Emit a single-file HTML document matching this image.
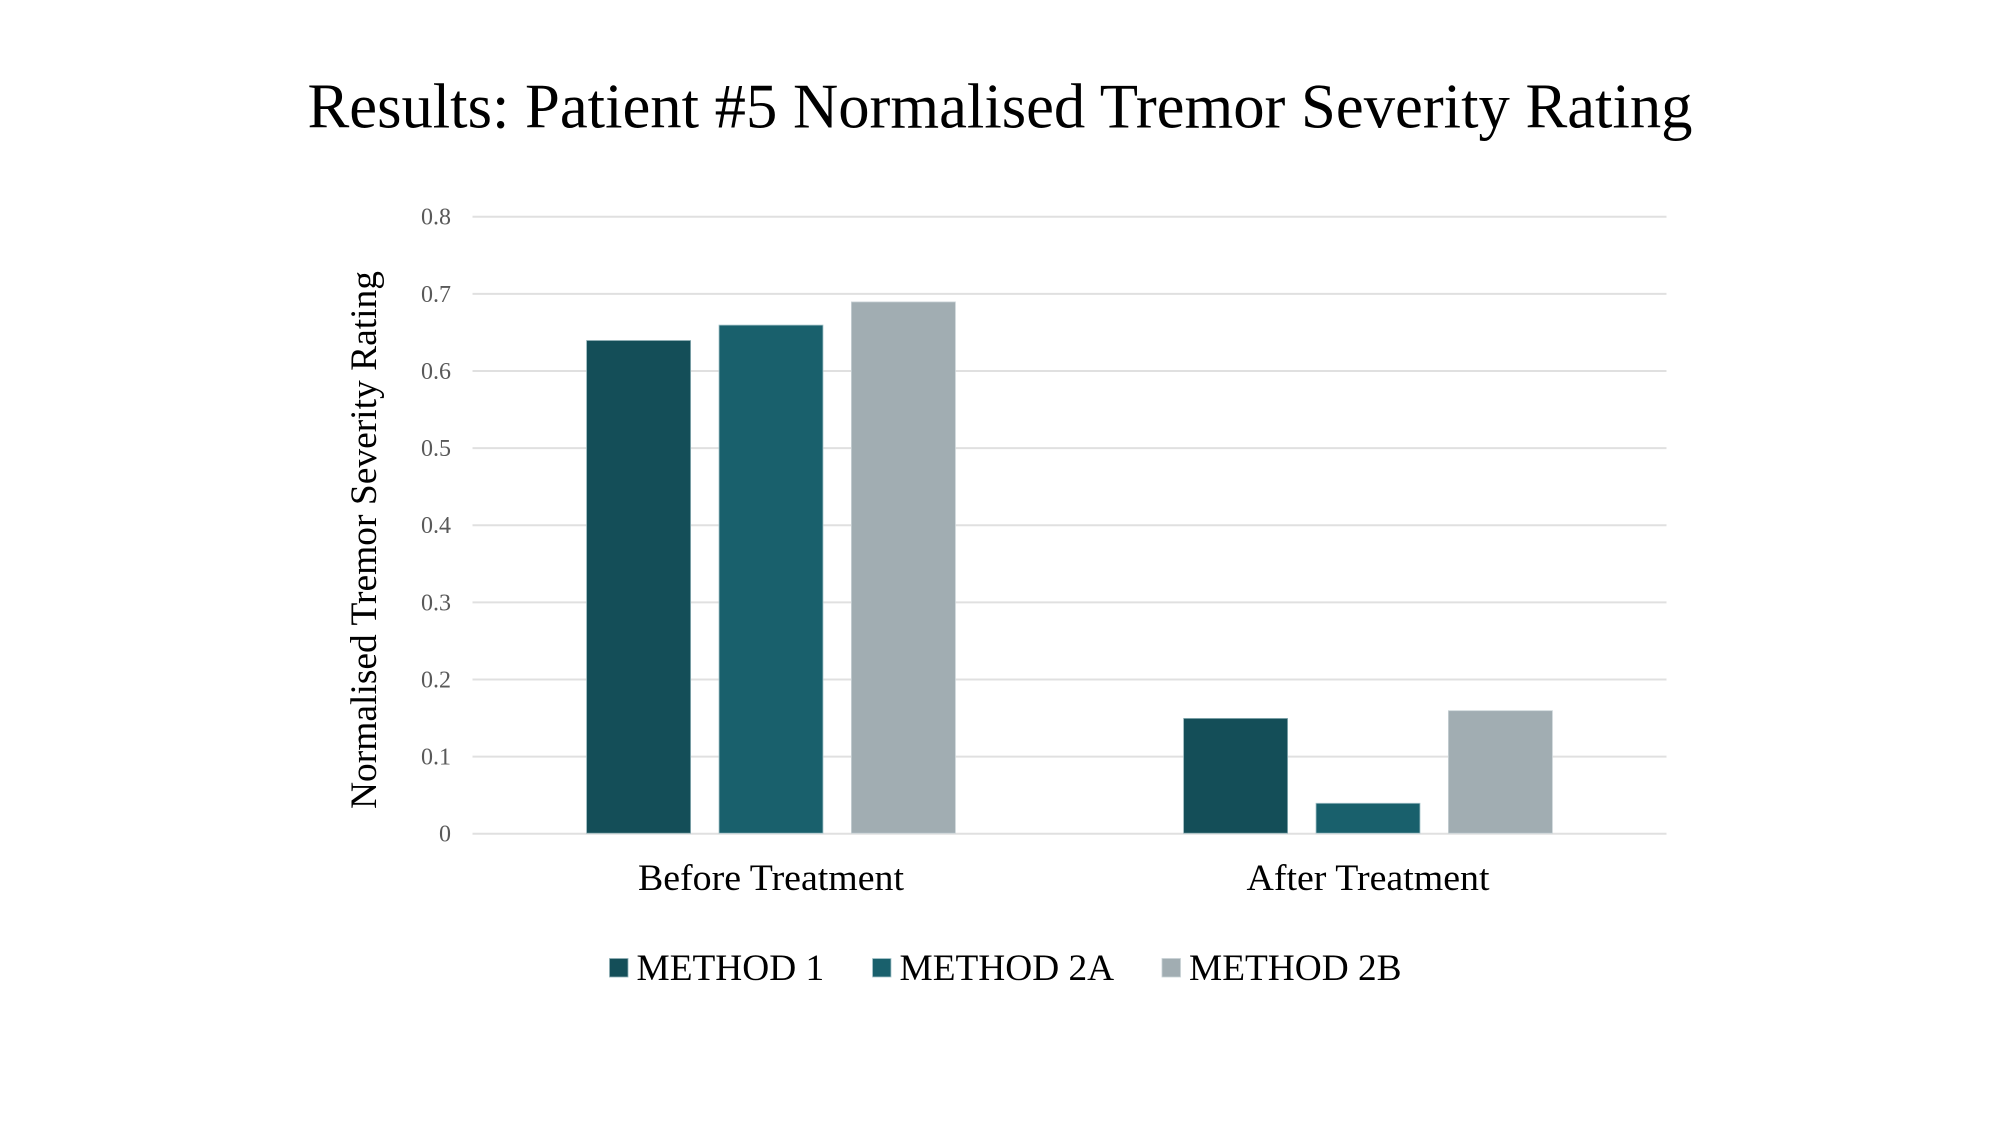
<!DOCTYPE html>
<html>
<head>
<meta charset="utf-8">
<title>Results: Patient #5 Normalised Tremor Severity Rating</title>
<style>
html,body{margin:0;padding:0;background:#fff;}
svg{display:block;}
text{font-family:"Liberation Serif",serif;}
</style>
</head>
<body>
<svg id="chart" xmlns="http://www.w3.org/2000/svg" width="2000" height="1125" viewBox="0 0 2000 1125">
<rect width="2000" height="1125" fill="#ffffff"/>
<text x="1000" y="127.5" font-size="64" text-anchor="middle" textLength="1385" lengthAdjust="spacingAndGlyphs" fill="#000000">Results: Patient #5 Normalised Tremor Severity Rating</text>
<text transform="translate(376 540) rotate(-90)" font-size="37.33" text-anchor="middle" textLength="538" lengthAdjust="spacingAndGlyphs" fill="#000000">Normalised Tremor Severity Rating</text>
<g id="grid"></g>
<g id="yticks"></g>
<g id="bars"></g>
<g id="xlabels"></g>
<g id="legend"></g>
</svg>
<script>
var categories = ["Before Treatment", "After Treatment"];
var seriesNames = ["METHOD 1", "METHOD 2A", "METHOD 2B"];
var method1 = [0.64, 0.15];
var method2a = [0.66, 0.04];
var method2b = [0.69, 0.16];
var tickValues = [0, 0.1, 0.2, 0.3, 0.4, 0.5, 0.6, 0.7, 0.8];
var categoryLabelLengths = [266, 243];

var NS = "http://www.w3.org/2000/svg";
var plotLeft = 472.5, plotRight = 1666.5, plotBottom = 833.7, plotTop = 216.7, yMax = 0.8;
var colors = ["#144e58", "#19606c", "#a1adb2"];
var strokes = ["#8fb0b6", "#a9c6cc", "#c9d2d6"];
var seriesValues = [method1, method2a, method2b];

function yScale(v) { return plotBottom - (v / yMax) * (plotBottom - plotTop); }
function catCenter(i) { return plotLeft + (i + 0.5) * (plotRight - plotLeft) / categories.length; }
function make(tag, attrs, parent) {
  var el = document.createElementNS(NS, tag);
  for (var k in attrs) el.setAttribute(k, attrs[k]);
  parent.appendChild(el);
  return el;
}

var gridG = document.getElementById("grid");
var tickG = document.getElementById("yticks");
tickValues.forEach(function (t) {
  var line = make("line", {x1: plotLeft, x2: plotRight, y1: yScale(t), y2: yScale(t), stroke: "#e0e0e0", "stroke-width": 2}, gridG);
  
  
  var label = make("text", {x: 451, y: yScale(t) + 8, "font-size": 24, "text-anchor": "end", fill: "#595959"}, tickG);
  label.textContent = String(t);
  
  
});

var barWidth = 104, barStep = 132.4;
var barsG = document.getElementById("bars");
seriesValues.forEach(function (vals, s) {
  vals.forEach(function (v, c) {
    var cx = catCenter(c) + (s - 1) * barStep;
    var top = yScale(v) + 0.4;
    var bar = make("rect", {x: cx - barWidth / 2, y: top, width: barWidth, height: plotBottom - top - 0.5, fill: colors[s], stroke: strokes[s], "stroke-width": 0.8}, barsG);
    
    
  });
});

var xG = document.getElementById("xlabels");
categories.forEach(function (cat, i) {
  var t = make("text", {x: catCenter(i), y: 890, "font-size": 37.33, "text-anchor": "middle", textLength: categoryLabelLengths[i], lengthAdjust: "spacingAndGlyphs", fill: "#000000"}, xG);
  t.textContent = cat;
  
  
});

var legendSwatchX = [609.5, 872.5, 1162];
var legendG = document.getElementById("legend");
seriesNames.forEach(function (name, i) {
  var sw = make("rect", {x: legendSwatchX[i], y: 958.5, width: 18.5, height: 18.5, fill: colors[i], stroke: strokes[i], "stroke-width": 0.8}, legendG);
  
  
  var t = make("text", {x: legendSwatchX[i] + 27, y: 980, "font-size": 37.33, fill: "#000000"}, legendG);
  t.textContent = name;
  
  
});
</script>
</body>
</html>
